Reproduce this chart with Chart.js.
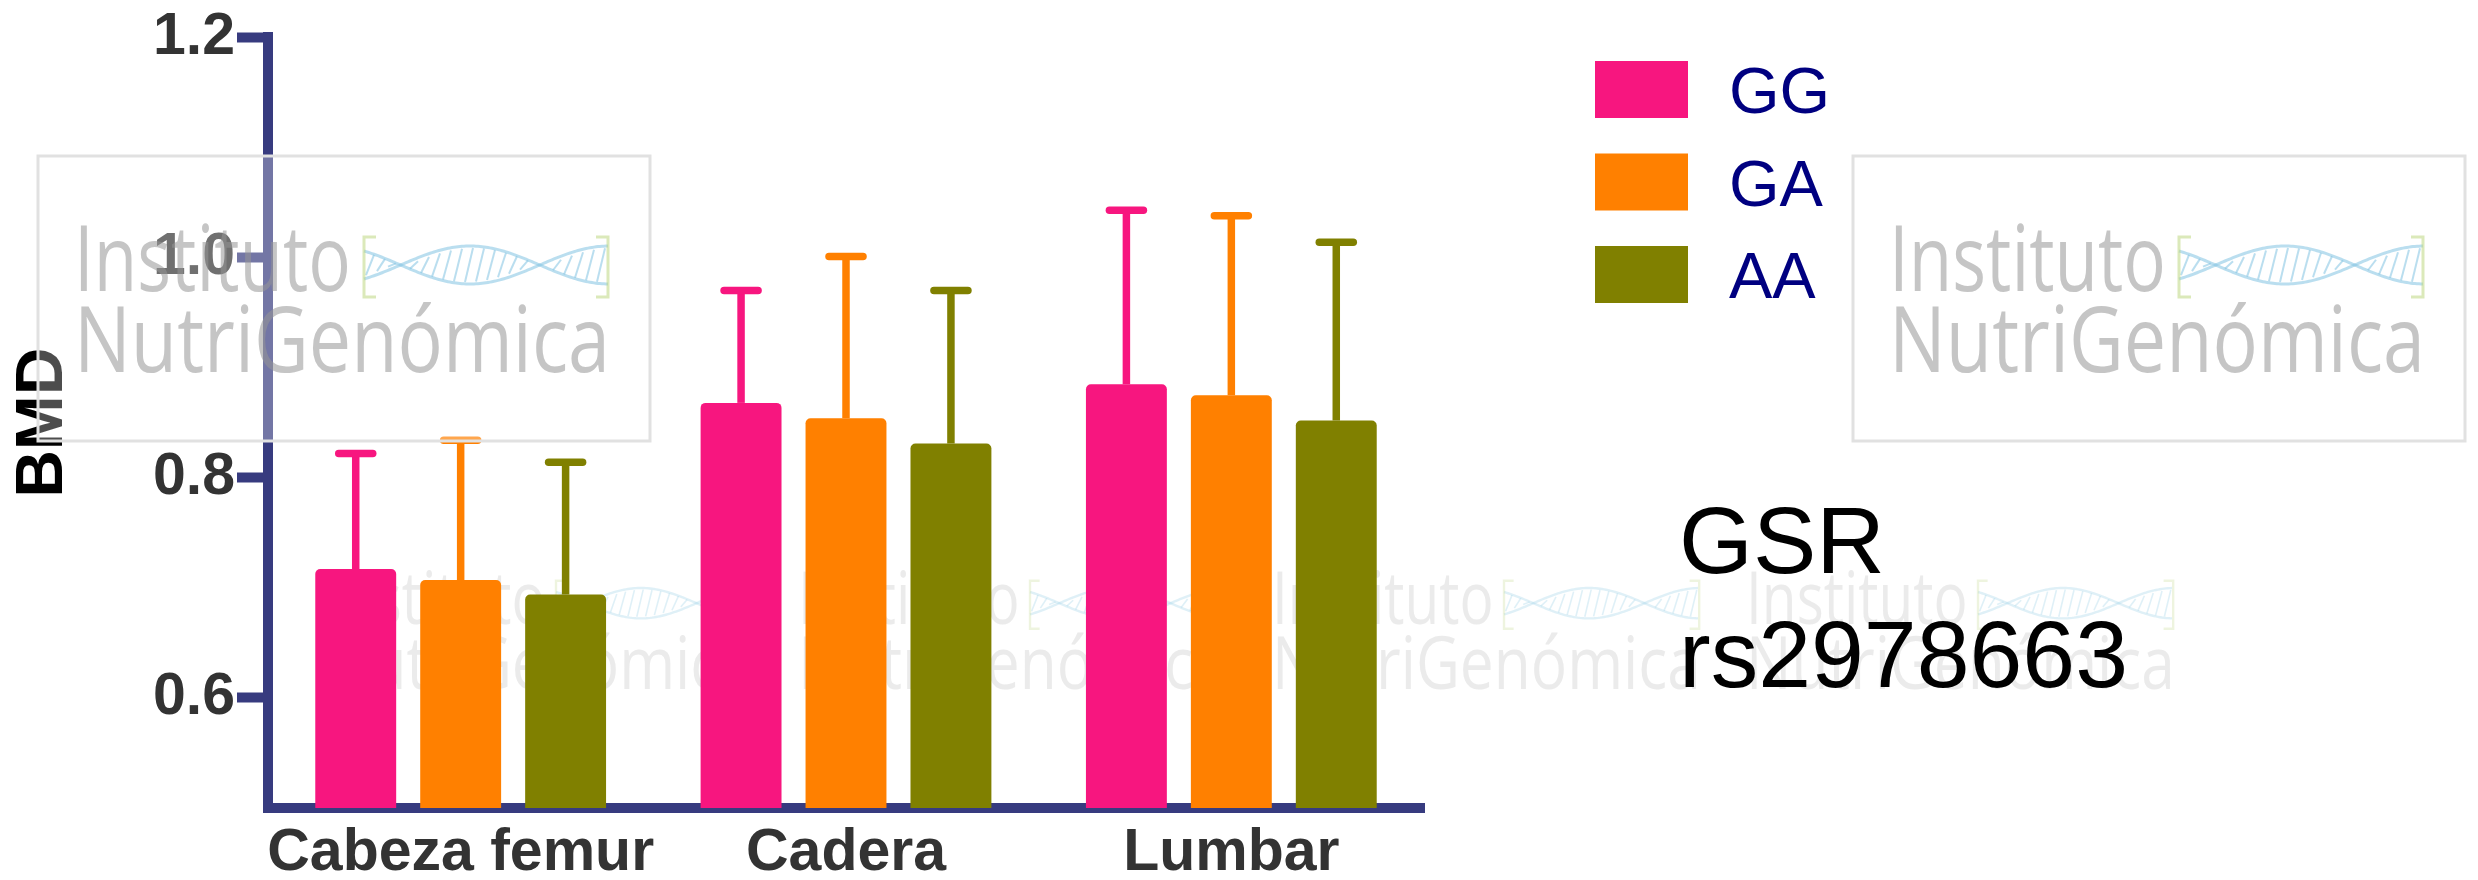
<!DOCTYPE html>
<html>
<head>
<meta charset="utf-8">
<title>GSR rs2978663 – BMD</title>
<script src="https://cdn.jsdelivr.net/npm/chart.js@4.4.1/dist/chart.umd.min.js"></script>
<style>
  html, body { margin: 0; padding: 0; background: #ffffff; overflow: hidden; }
  #wrap { position: relative; width: 2478px; height: 880px; }
</style>
</head>
<body>
<div id="wrap"><canvas id="chart" width="2478" height="880"></canvas></div>
<script>
// Bone mineral density by genotype and site
const categories = ['Cabeza femur', 'Cadera', 'Lumbar'];
const genotypes = ['GG', 'GA', 'AA'];
const meanGG = [0.717, 0.868, 0.885];
const meanGA = [0.707, 0.854, 0.875];
const meanAA = [0.694, 0.831, 0.852];
// upper error (SD) above each mean
const sdGG = [0.105, 0.102, 0.158];
const sdGA = [0.127, 0.147, 0.163];
const sdAA = [0.120, 0.139, 0.162];
const yTicks = [0.6, 0.8, 1.0, 1.2];
const yTitle = 'BMD';
const geneName = 'GSR';
const snpName = 'rs2978663';
const logoLines = ['Instituto', 'NutriGenómica'];

const FONT = '"Liberation Sans", Arial, Helvetica, sans-serif';
const AXIS = '#373b7f';
const barColors = ['#f7167f', '#ff8000', '#808000'];

// vertical error bars with rounded caps
const errorBars = {
  id: 'errorBars',
  afterDatasetsDraw(chart) {
    const ctx = chart.ctx;
    const y = chart.scales.y;
    chart.data.datasets.forEach((ds, di) => {
      const meta = chart.getDatasetMeta(di);
      meta.data.forEach((bar, i) => {
        const top = y.getPixelForValue(ds.data[i] + ds.errorPlus[i]);
        ctx.save();
        ctx.strokeStyle = ds.backgroundColor;
        ctx.lineWidth = 7.5;
        ctx.lineCap = 'butt';
        ctx.beginPath();
        ctx.moveTo(bar.x, bar.y);
        ctx.lineTo(bar.x, top);
        ctx.stroke();
        ctx.lineCap = 'round';
        ctx.beginPath();
        ctx.moveTo(bar.x - 17, top);
        ctx.lineTo(bar.x + 17, top);
        ctx.stroke();
        ctx.restore();
      });
    });
  }
};

// "Instituto NutriGenómica" logo: text plus a small helix
function drawLogo(ctx, ox, oy, s, textColor, helixColor, bracketColor) {
  ctx.save();
  ctx.fillStyle = textColor;
  ctx.textBaseline = 'alphabetic';
  ctx.textAlign = 'left';
  ctx.font = `${Math.round(92 * s)}px "Open Sans", "DejaVu Sans", sans-serif`;
  ctx.fillText(logoLines[0], ox, oy, 277 * s);
  ctx.fillText(logoLines[1], ox, oy + 81 * s, 536 * s);
  // helix
  const x0 = ox + 290 * s, x1 = ox + 534 * s;
  const cy = oy - 26 * s, amp = 19 * s, w = x1 - x0;
  ctx.lineWidth = Math.max(1.5, 3 * s);
  ctx.strokeStyle = helixColor;
  const wave = (x, sign) => cy + sign * amp * Math.sin(2 * Math.PI * ((x - x0) / w - 0.15) / 1.14);
  [1, -1].forEach(sign => {
    ctx.beginPath();
    for (let x = x0; x <= x1; x += 2) {
      const yy = wave(x, sign);
      if (x === x0) ctx.moveTo(x, yy); else ctx.lineTo(x, yy);
    }
    ctx.stroke();
  });
  ctx.lineWidth = Math.max(1, 2 * s);
  for (let x = x0 + 6 * s; x < x1; x += 11 * s) {
    const a = wave(x, 1), b = wave(x, -1);
    if (Math.abs(a - b) < 6 * s) continue;
    ctx.beginPath();
    ctx.moveTo(x - 4 * s, Math.max(a, b) - 2 * s);
    ctx.lineTo(x + 4 * s, Math.min(a, b) + 2 * s);
    ctx.stroke();
  }
  ctx.strokeStyle = bracketColor;
  ctx.lineWidth = Math.max(1.5, 3 * s);
  ctx.beginPath();
  ctx.moveTo(x0 + 12 * s, cy - 28 * s); ctx.lineTo(x0, cy - 28 * s);
  ctx.lineTo(x0, cy + 32 * s); ctx.lineTo(x0 + 12 * s, cy + 32 * s);
  ctx.moveTo(x1 - 12 * s, cy - 28 * s); ctx.lineTo(x1, cy - 28 * s);
  ctx.lineTo(x1, cy + 32 * s); ctx.lineTo(x1 - 12 * s, cy + 32 * s);
  ctx.stroke();
  ctx.restore();
}

const faintLogos = {
  id: 'faintLogos',
  beforeDatasetsDraw(chart) {
    const ctx = chart.ctx;
    [324, 798, 1272, 1746].forEach(x => {
      drawLogo(ctx, x, 624, 0.8, 'rgba(205,205,205,0.4)', 'rgba(150,205,230,0.3)', 'rgba(200,220,150,0.3)');
    });
  }
};

const sidePanel = {
  id: 'sidePanel',
  afterDraw(chart) {
    const ctx = chart.ctx;
    // framed logos
    [38, 1853].forEach(bx => {
      ctx.save();
      ctx.fillStyle = 'rgba(255,255,255,0.3)';
      ctx.fillRect(bx, 156, 612, 285);
      ctx.strokeStyle = '#e1e1e1';
      ctx.lineWidth = 3;
      ctx.strokeRect(bx, 156, 612, 285);
      ctx.restore();
      drawLogo(ctx, bx + 36, 291, 1, 'rgba(150,150,150,0.55)', 'rgba(130,195,225,0.55)', 'rgba(190,215,130,0.55)');
    });
    // legend built from the datasets
    ctx.save();
    chart.data.datasets.forEach((ds, i) => {
      const top = 61 + i * 92.5;
      ctx.fillStyle = ds.backgroundColor;
      ctx.fillRect(1595, top, 93, 57);
      ctx.fillStyle = '#000080';
      ctx.font = `65px ${FONT}`;
      ctx.textBaseline = 'alphabetic';
      ctx.fillText(ds.label, 1729, top + 52);
    });
    // gene / SNP caption
    ctx.fillStyle = '#000000';
    ctx.font = `95px ${FONT}`;
    ctx.fillText(geneName, 1679, 573);
    ctx.fillText(snpName, 1679, 687);
    ctx.restore();
  }
};

const ctx = document.getElementById('chart').getContext('2d');
new Chart(ctx, {
  type: 'bar',
  data: {
    labels: categories,
    datasets: [
      { label: genotypes[0], data: meanGG, errorPlus: sdGG, backgroundColor: barColors[0] },
      { label: genotypes[1], data: meanGA, errorPlus: sdGA, backgroundColor: barColors[1] },
      { label: genotypes[2], data: meanAA, errorPlus: sdAA, backgroundColor: barColors[2] }
    ]
  },
  options: {
    responsive: false,
    animation: false,
    devicePixelRatio: 1,
    layout: { padding: { left: 0, right: 1054, top: 36, bottom: 0 } },
    datasets: {
      bar: {
        categoryPercentage: 0.817,
        barPercentage: 0.771,
        borderRadius: 5,
        borderSkipped: 'start'
      }
    },
    plugins: {
      legend: { display: false },
      tooltip: { enabled: false },
      title: { display: false }
    },
    scales: {
      x: {
        z: 1,
        grid: { display: false, drawTicks: false },
        border: { display: true, color: AXIS, width: 10 },
        ticks: {
          padding: 10,
          color: '#333333',
          maxRotation: 0,
          autoSkip: false,
          font: { family: FONT, size: 59, weight: 'bold' }
        },
        afterFit(scale) { scale.height = 72; }
      },
      y: {
        min: 0.5,
        max: 1.2,
        grid: {
          display: true,
          drawOnChartArea: false,
          drawTicks: true,
          tickLength: 31,
          tickWidth: 10,
          tickColor: AXIS,
          color: AXIS
        },
        border: { display: true, color: AXIS, width: 10 },
        afterBuildTicks(scale) { scale.ticks = yTicks.map(v => ({ value: v })); },
        ticks: {
          padding: 2,
          color: '#333333',
          font: { family: FONT, size: 59, weight: 'bold' },
          callback: v => Number(v).toFixed(1)
        },
        title: {
          display: true,
          text: yTitle,
          color: '#000000',
          font: { family: FONT, size: 66, weight: 'bold' },
          padding: { top: 4, bottom: 0 }
        },
        afterFit(scale) { scale.width = 268; }
      }
    }
  },
  plugins: [faintLogos, errorBars, sidePanel]
});
</script>
</body>
</html>
